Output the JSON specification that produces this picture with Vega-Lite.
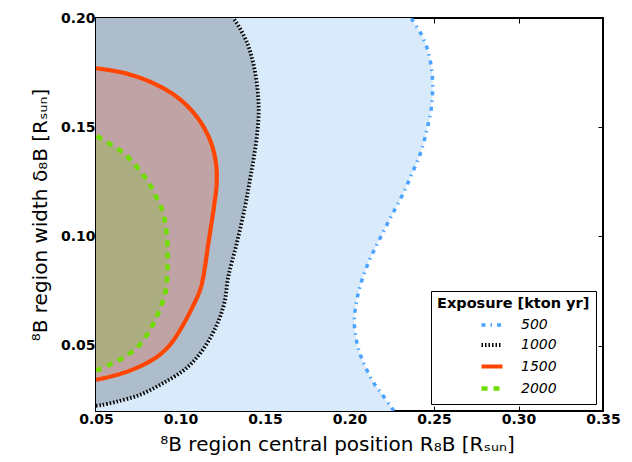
{
  "$schema": "https://vega.github.io/schema/vega-lite/v6.json",
  "width": 507,
  "height": 393,
  "autosize": "none",
  "padding": {"left": 96, "top": 18, "right": 29, "bottom": 51},
  "background": "white",
  "config": {
    "font": "DejaVu Sans",
    "view": {"stroke": "black", "strokeWidth": 2},
    "axis": {"grid": false, "domain": false, "labelFlush": false}
  },
  "data": {
    "values": [
      {"s": "500", "x": 0.2364, "y": 0.2000}, {"s": "500", "x": 0.2427, "y": 0.1922}, {"s": "500", "x": 0.2463, "y": 0.1853},
      {"s": "500", "x": 0.2482, "y": 0.1785}, {"s": "500", "x": 0.2492, "y": 0.1711}, {"s": "500", "x": 0.2490, "y": 0.1638},
      {"s": "500", "x": 0.2480, "y": 0.1565}, {"s": "500", "x": 0.2460, "y": 0.1496}, {"s": "500", "x": 0.2437, "y": 0.1423},
      {"s": "500", "x": 0.2407, "y": 0.1354}, {"s": "500", "x": 0.2368, "y": 0.1285}, {"s": "500", "x": 0.2333, "y": 0.1221},
      {"s": "500", "x": 0.2289, "y": 0.1153}, {"s": "500", "x": 0.2246, "y": 0.1090}, {"s": "500", "x": 0.2204, "y": 0.1026},
      {"s": "500", "x": 0.2161, "y": 0.0960}, {"s": "500", "x": 0.2121, "y": 0.0896}, {"s": "500", "x": 0.2086, "y": 0.0827},
      {"s": "500", "x": 0.2058, "y": 0.0759}, {"s": "500", "x": 0.2038, "y": 0.0685}, {"s": "500", "x": 0.2028, "y": 0.0613},
      {"s": "500", "x": 0.2037, "y": 0.0543}, {"s": "500", "x": 0.2058, "y": 0.0471}, {"s": "500", "x": 0.2092, "y": 0.0406},
      {"s": "500", "x": 0.2135, "y": 0.0339}, {"s": "500", "x": 0.2188, "y": 0.0281}, {"s": "500", "x": 0.2246, "y": 0.0219},
      {"s": "500", "x": 0.2263, "y": 0.0200},
      {"s": "1000", "x": 0.1311, "y": 0.2000}, {"s": "1000", "x": 0.1328, "y": 0.1983}, {"s": "1000", "x": 0.1392, "y": 0.1891},
      {"s": "1000", "x": 0.1431, "y": 0.1792}, {"s": "1000", "x": 0.1454, "y": 0.1685}, {"s": "1000", "x": 0.1463, "y": 0.1579},
      {"s": "1000", "x": 0.1454, "y": 0.1472}, {"s": "1000", "x": 0.1435, "y": 0.1365}, {"s": "1000", "x": 0.1411, "y": 0.1258},
      {"s": "1000", "x": 0.1382, "y": 0.1136}, {"s": "1000", "x": 0.1333, "y": 0.0968}, {"s": "1000", "x": 0.1283, "y": 0.0815},
      {"s": "1000", "x": 0.1259, "y": 0.0693}, {"s": "1000", "x": 0.1210, "y": 0.0586}, {"s": "1000", "x": 0.1131, "y": 0.0479},
      {"s": "1000", "x": 0.1033, "y": 0.0395}, {"s": "1000", "x": 0.0895, "y": 0.0327}, {"s": "1000", "x": 0.0756, "y": 0.0273},
      {"s": "1000", "x": 0.0618, "y": 0.0242}, {"s": "1000", "x": 0.0530, "y": 0.0227}, {"s": "1000", "x": 0.0500, "y": 0.0224},
      {"s": "1500", "x": 0.0500, "y": 0.1770}, {"s": "1500", "x": 0.0662, "y": 0.1749}, {"s": "1500", "x": 0.0820, "y": 0.1708},
      {"s": "1500", "x": 0.0978, "y": 0.1639}, {"s": "1500", "x": 0.1096, "y": 0.1548}, {"s": "1500", "x": 0.1175, "y": 0.1441},
      {"s": "1500", "x": 0.1210, "y": 0.1334}, {"s": "1500", "x": 0.1214, "y": 0.1243}, {"s": "1500", "x": 0.1198, "y": 0.1136},
      {"s": "1500", "x": 0.1165, "y": 0.0968}, {"s": "1500", "x": 0.1135, "y": 0.0815}, {"s": "1500", "x": 0.1116, "y": 0.0754},
      {"s": "1500", "x": 0.1062, "y": 0.0662}, {"s": "1500", "x": 0.1003, "y": 0.0578}, {"s": "1500", "x": 0.0944, "y": 0.0509},
      {"s": "1500", "x": 0.0875, "y": 0.0456}, {"s": "1500", "x": 0.0796, "y": 0.0418}, {"s": "1500", "x": 0.0697, "y": 0.0384},
      {"s": "1500", "x": 0.0599, "y": 0.0360}, {"s": "1500", "x": 0.0500, "y": 0.0343},
      {"s": "2000", "x": 0.0500, "y": 0.1462}, {"s": "2000", "x": 0.0593, "y": 0.1418}, {"s": "2000", "x": 0.0662, "y": 0.1383},
      {"s": "2000", "x": 0.0721, "y": 0.1337}, {"s": "2000", "x": 0.0770, "y": 0.1291}, {"s": "2000", "x": 0.0815, "y": 0.1243},
      {"s": "2000", "x": 0.0853, "y": 0.1186}, {"s": "2000", "x": 0.0889, "y": 0.1128}, {"s": "2000", "x": 0.0908, "y": 0.1067},
      {"s": "2000", "x": 0.0918, "y": 0.1014}, {"s": "2000", "x": 0.0924, "y": 0.0937}, {"s": "2000", "x": 0.0924, "y": 0.0884},
      {"s": "2000", "x": 0.0922, "y": 0.0831}, {"s": "2000", "x": 0.0914, "y": 0.0754}, {"s": "2000", "x": 0.0891, "y": 0.0693},
      {"s": "2000", "x": 0.0861, "y": 0.0635}, {"s": "2000", "x": 0.0825, "y": 0.0579}, {"s": "2000", "x": 0.0782, "y": 0.0525},
      {"s": "2000", "x": 0.0727, "y": 0.0479}, {"s": "2000", "x": 0.0662, "y": 0.0444}, {"s": "2000", "x": 0.0589, "y": 0.0415},
      {"s": "2000", "x": 0.0520, "y": 0.0391}, {"s": "2000", "x": 0.0500, "y": 0.0386}
    ]
  },
  "layer": [
    {
      "encoding": {
        "y": {
          "field": "y", "type": "quantitative",
          "scale": {"domain": [0.02, 0.2], "nice": false, "zero": false},
          "axis": {
            "values": [0.05, 0.1, 0.15, 0.2], "format": ".2f",
            "tickSize": -5, "tickColor": "black", "labelPadding": 6,
            "labelFont": "DejaVu Sans", "labelFontWeight": "bold", "labelFontSize": 14, "labelColor": "black",
            "title": "⁸B region width δ₈B [Rₛᵤₙ]", "titleFont": "DejaVu Sans", "titleFontSize": 20, "titleFontWeight": "normal",
            "titleColor": "black", "titlePadding": 10
          }
        },
        "x": {
          "field": "x", "type": "quantitative",
          "scale": {"domain": [0.05, 0.35], "nice": false, "zero": false},
          "axis": {
            "values": [0.05, 0.1, 0.15, 0.2, 0.25, 0.3, 0.35], "format": ".2f",
            "tickSize": -5, "tickColor": "black", "labelPadding": 6,
            "labelFont": "DejaVu Sans", "labelFontWeight": "bold", "labelFontSize": 14, "labelColor": "black",
            "title": "⁸B region central position R₈B [Rₛᵤₙ]", "titleFont": "DejaVu Sans", "titleFontSize": 20, "titleFontWeight": "normal",
            "titleColor": "black", "titlePadding": 8, "titleX": 241
          }
        }
      },
      "layer": [
        {
          "transform": [{"filter": "datum.s === '500'"}],
          "mark": {"type": "area", "orient": "horizontal", "interpolate": "catmull-rom", "fill": "#d9eafb", "clip": true},
          "encoding": {"x2": {"datum": 0.05}}
        },
        {
          "transform": [{"filter": "datum.s === '1000'"}],
          "mark": {"type": "area", "orient": "horizontal", "interpolate": "catmull-rom", "fill": "#aebdcc", "clip": true},
          "encoding": {"x2": {"datum": 0.05}}
        },
        {
          "transform": [{"filter": "datum.s === '1500'"}],
          "mark": {"type": "area", "orient": "horizontal", "interpolate": "catmull-rom", "fill": "#c0a3a5", "clip": true},
          "encoding": {"x2": {"datum": 0.05}}
        },
        {
          "transform": [{"filter": "datum.s === '2000'"}],
          "mark": {"type": "area", "orient": "horizontal", "interpolate": "catmull-rom", "fill": "#adad82", "clip": true},
          "encoding": {"x2": {"datum": 0.05}}
        },
        {
          "mark": {"type": "line", "interpolate": "catmull-rom", "clip": true},
          "encoding": {
            "order": {"field": "y", "type": "quantitative"},
            "stroke": {
              "field": "s", "type": "nominal",
              "scale": {"domain": ["500", "1000", "1500", "2000"], "range": ["#4aa3ff", "#000000", "#ff4500", "#6fdd00"]},
              "title": "Exposure [kton yr]",
              "legend": {
                "orient": "bottom-right", "offset": 7, "padding": 6, "strokeColor": "black", "fillColor": "white", "cornerRadius": 0,
                "titleFont": "DejaVu Sans", "titleFontSize": 14.5, "titleFontWeight": "bold", "titleColor": "black", "titlePadding": 1,
                "labelFont": "DejaVu Sans", "labelFontStyle": "italic", "labelFontSize": 14, "labelColor": "black", "labelOffset": 16,
                "symbolType": "stroke", "symbolSize": 441, "symbolStrokeWidth": 3.5, "symbolOffset": 42, "rowPadding": 0
              }
            },
            "strokeDash": {
              "field": "s", "type": "nominal",
              "scale": {"domain": ["500", "1000", "1500", "2000"], "range": [[4, 5, 1.5, 5], [1.5, 2], [1, 0], [6, 6]]},
              "title": "Exposure [kton yr]"
            },
            "strokeWidth": {
              "field": "s", "type": "nominal",
              "scale": {"domain": ["500", "1000", "1500", "2000"], "range": [3.5, 4.5, 3.5, 4.5]},
              "legend": null
            }
          }
        }
      ]
    },
    {
      "mark": {"type": "point", "opacity": 0},
      "encoding": {
        "x": {"field": "x", "type": "quantitative",
          "scale": {"domain": [0.05, 0.35], "nice": false, "zero": false},
          "axis": {"orient": "top", "values": [0.05, 0.1, 0.15, 0.2, 0.25, 0.3, 0.35], "labels": false, "tickSize": -5, "tickColor": "black", "title": null}},
        "y": {"field": "y", "type": "quantitative",
          "scale": {"domain": [0.02, 0.2], "nice": false, "zero": false},
          "axis": {"orient": "right", "values": [0.05, 0.1, 0.15, 0.2], "labels": false, "tickSize": -5, "tickColor": "black", "title": null}}
      }
    }
  ],
  "resolve": {"axis": {"x": "independent", "y": "independent"}}
}
